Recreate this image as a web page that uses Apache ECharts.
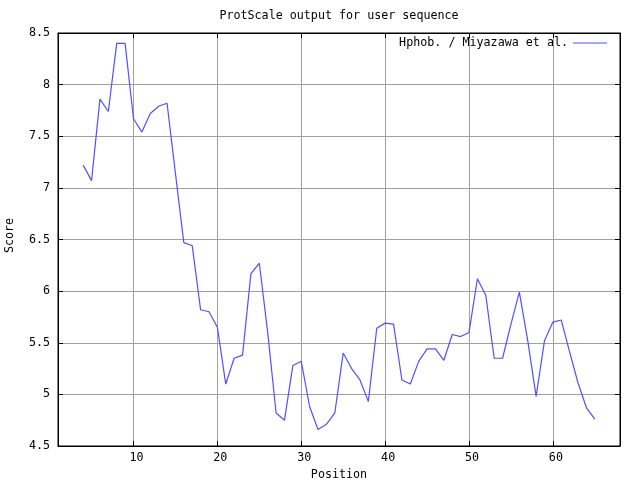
<!DOCTYPE html>
<html>
<head>
<meta charset="utf-8">
<title>ProtScale output</title>
<script src="https://cdn.jsdelivr.net/npm/echarts@6/dist/echarts.min.js"></script>
<style>
  html, body { margin: 0; padding: 0; background: #fff; }
  #chart { width: 640px; height: 480px; }
</style>
</head>
<body>
<div id="chart"></div>
<script>
// data
const positions = [4, 5, 6, 7, 8, 9, 10, 11, 12, 13, 14, 15, 16, 17, 18, 19, 20, 21, 22, 23, 24,
  25, 26, 27, 28, 29, 30, 31, 32, 33, 34, 35, 36, 37, 38, 39, 40, 41, 42, 43, 44, 45, 46, 47, 48,
  49, 50, 51, 52, 53, 54, 55, 56, 57, 58, 59, 60, 61, 62, 63, 64, 65]
const scores = [7.22, 7.07, 7.86, 7.74, 8.40, 8.40, 7.67, 7.54, 7.72, 7.79, 7.82, 7.14, 6.47, 6.44,
  5.82, 5.80, 5.65, 5.10, 5.35, 5.38, 6.17, 6.27, 5.60, 4.82, 4.75, 5.28, 5.32, 4.88, 4.66, 4.71,
  4.82, 5.40, 5.25, 5.14, 4.93, 5.64, 5.69, 5.68, 5.14, 5.10, 5.32, 5.44, 5.44, 5.33, 5.58, 5.56,
  5.60, 6.12, 5.96, 5.35, 5.35, 5.68, 5.99, 5.52, 4.98, 5.52, 5.70, 5.72, 5.41, 5.11, 4.87, 4.76]
const xTicks = [10, 20, 30, 40, 50, 60]
const seriesName = 'Hphob. / Miyazawa et al.'

const font = 'DejaVu Sans Mono'
const fontSize = 11.7
const gridColor = '#a0a0a0'

const chart = echarts.init(document.getElementById('chart'), null, { renderer: 'canvas' })

const xBase = {
  type: 'value',
  min: 1,
  max: 68,
  axisLine: { show: true, lineStyle: { color: '#000', width: 1 } },
  axisTick: { show: true, inside: true, length: 5, customValues: xTicks, lineStyle: { color: '#000' } }
}
const yBase = {
  type: 'value',
  min: 4.5,
  max: 8.5,
  interval: 0.5,
  axisLine: { show: true, lineStyle: { color: '#000', width: 1 } },
  axisTick: { show: true, inside: true, length: 5, lineStyle: { color: '#000' } }
}

chart.setOption({
  animation: false,
  textStyle: { fontFamily: font, fontSize: fontSize, color: '#000' },
  title: {
    text: 'ProtScale output for user sequence',
    left: 334,
    textAlign: 'center',
    top: 5,
    textStyle: { fontFamily: font, fontSize: fontSize, fontWeight: 'normal', color: '#000' }
  },
  grid: {
    left: 58, right: 20, top: 33, bottom: 34,
    outerBoundsMode: 'none',
    containLabel: false,
    show: true, borderColor: '#000', borderWidth: 1
  },
  legend: {
    show: true,
    right: 28,
    top: 32,
    align: 'right',
    icon: 'rect',
    itemWidth: 34,
    itemHeight: 1,
    textStyle: { fontFamily: font, fontSize: fontSize, color: '#000' },
    data: [seriesName]
  },
  xAxis: [
    Object.assign({}, xBase, {
      position: 'bottom',
      name: 'Position',
      nameLocation: 'middle',
      nameGap: 21,
      nameTextStyle: { fontFamily: font, fontSize: fontSize, color: '#000' },
      axisLabel: {
        show: true, customValues: xTicks, margin: 6, padding: [0, 0, 0, 6],
        color: '#000', fontFamily: font, fontSize: fontSize
      },
      splitLine: { show: true, lineStyle: { color: gridColor, width: 1 } }
    }),
    Object.assign({}, xBase, {
      position: 'top',
      axisLabel: { show: false },
      splitLine: { show: false }
    })
  ],
  yAxis: [
    Object.assign({}, yBase, {
      position: 'left',
      name: 'Score',
      nameLocation: 'middle',
      nameGap: 42,
      nameTextStyle: { fontFamily: font, fontSize: fontSize, color: '#000', padding: [0, 0, 0, 8] },
      axisLabel: { show: true, margin: 8, color: '#000', fontFamily: font, fontSize: fontSize },
      splitLine: { show: true, lineStyle: { color: gridColor, width: 1 } }
    }),
    Object.assign({}, yBase, {
      position: 'right',
      axisLabel: { show: false },
      splitLine: { show: false }
    })
  ],
  series: [
    {
      name: seriesName,
      type: 'line',
      xAxisIndex: 0,
      yAxisIndex: 0,
      symbol: 'none',
      lineStyle: { color: '#5050ff', width: 1.2 },
      itemStyle: { color: '#5050ff' },
      data: positions.map((p, i) => [p, scores[i]])
    }
  ]
})
</script>
</body>
</html>
